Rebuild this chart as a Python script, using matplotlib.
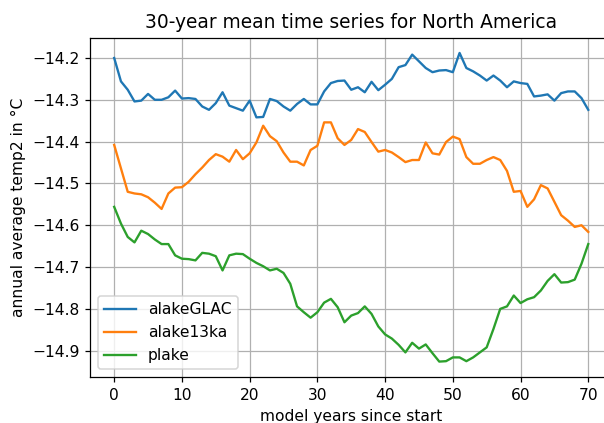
import numpy as np
import matplotlib
matplotlib.use("Agg")
import matplotlib.pyplot as plt

# 30-year running means, one value per model year (0..70)
years = np.arange(71)

alakeGLAC = [
    -14.200, -14.256, -14.276, -14.304, -14.302, -14.286, -14.300, -14.300, -14.294, -14.278,
    -14.297, -14.296, -14.298, -14.316, -14.324, -14.308, -14.282, -14.314, -14.320, -14.326,
    -14.302, -14.342, -14.341, -14.298, -14.303, -14.316, -14.326, -14.310, -14.298, -14.311,
    -14.311, -14.280, -14.260, -14.255, -14.254, -14.276, -14.270, -14.282, -14.257, -14.277,
    -14.264, -14.250, -14.222, -14.217, -14.192, -14.208, -14.224, -14.234, -14.230, -14.229,
    -14.234, -14.188, -14.224, -14.232, -14.242, -14.254, -14.242, -14.254, -14.270, -14.256,
    -14.260, -14.262, -14.292, -14.290, -14.287, -14.302, -14.284, -14.280, -14.280, -14.296,
    -14.324,
]

alake13ka = [
    -14.408, -14.464, -14.520, -14.524, -14.526, -14.533, -14.546, -14.561, -14.524, -14.510,
    -14.509, -14.496, -14.478, -14.462, -14.444, -14.430, -14.436, -14.448, -14.420, -14.442,
    -14.428, -14.402, -14.362, -14.387, -14.399, -14.426, -14.448, -14.448, -14.457, -14.420,
    -14.410, -14.354, -14.354, -14.392, -14.408, -14.396, -14.370, -14.377, -14.401, -14.424,
    -14.420, -14.426, -14.437, -14.449, -14.444, -14.444, -14.402, -14.428, -14.431, -14.401,
    -14.388, -14.394, -14.437, -14.453, -14.453, -14.444, -14.437, -14.444, -14.470, -14.520,
    -14.518, -14.556, -14.538, -14.504, -14.512, -14.544, -14.576, -14.589, -14.604, -14.600,
    -14.616,
]

plake = [
    -14.556, -14.596, -14.628, -14.641, -14.613, -14.621, -14.634, -14.645, -14.645, -14.672,
    -14.680, -14.681, -14.684, -14.666, -14.668, -14.674, -14.708, -14.672, -14.668, -14.669,
    -14.680, -14.690, -14.698, -14.708, -14.704, -14.714, -14.740, -14.794, -14.808, -14.821,
    -14.808, -14.785, -14.776, -14.796, -14.832, -14.816, -14.810, -14.794, -14.812, -14.842,
    -14.861, -14.871, -14.886, -14.904, -14.881, -14.895, -14.885, -14.906, -14.926, -14.925,
    -14.916, -14.916, -14.925, -14.916, -14.904, -14.892, -14.848, -14.800, -14.794, -14.768,
    -14.786, -14.777, -14.772, -14.756, -14.733, -14.717, -14.737, -14.736, -14.730, -14.692,
    -14.645,
]

# original was rendered a bit larger than 100 dpi
dpi = 112
fig = plt.figure(figsize=(604 / dpi, 423 / dpi), dpi=dpi)
# axes run past the right edge, like the cropped original
ax = fig.add_axes([0.1498, 0.1087, 0.8634, 0.8026])

ax.plot(years, alakeGLAC, label="alakeGLAC")
ax.plot(years, alake13ka, label="alake13ka")
ax.plot(years, plake, label="plake")

ax.grid(True)
ax.set_xlabel("model years since start")
ax.set_ylabel("annual average temp2 in °C")
ax.set_title("30-year mean time series for North America")
ax.legend(loc="lower left")

plt.savefig("out.png", dpi=dpi)
